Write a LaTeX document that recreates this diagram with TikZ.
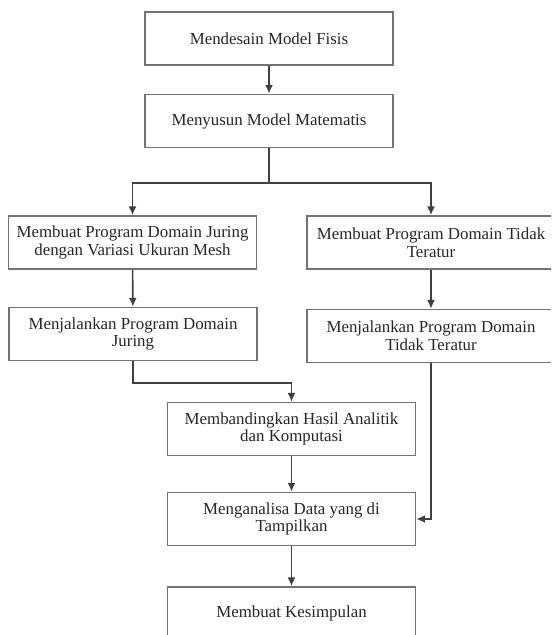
\documentclass[tikz,border=0pt]{standalone}
\usepackage{fontspec}
\setmainfont{Liberation Serif}
\usetikzlibrary{arrows.meta}

\tikzset{
  stepbox/.style={draw=black!55, line width=0.9pt, text=black!85,
    minimum width=4.96cm, minimum height=1.06cm, inner sep=2pt,
    align=center, font=\fontsize{9.6}{10}\selectfont},
  flow/.style={draw=black!75, line width=0.9pt, -{Latex[length=5pt,width=4.5pt]}},
}

\begin{document}
\begin{tikzpicture}[x=0.02cm, y=-0.02cm]
            % page frame (the right column and the last box run off the page)
            \clip (0,0) rectangle (551,635);

            % main column
            \node[stepbox] (fisis) at (269,38.5) {Mendesain Model Fisis};
            \node[stepbox] (matematis) at (269,121) {Menyusun Model Matematis};

            % left branch
            \node[stepbox] (progjuring) at (132.5,242.5) {Membuat Program Domain Juring\\dengan Variasi Ukuran Mesh};
            \node[stepbox] (runjuring) at (133,334) {Menjalankan Program Domain\\Juring};
            % right branch
            \node[stepbox] (progtidak) at (431,242.5) {Membuat Program Domain Tidak\\Teratur};
            \node[stepbox] (runtidak) at (431,336) {Menjalankan Program Domain\\Tidak Teratur};

            % lower column
            \node[stepbox] (banding) at (291.5,429) {Membandingkan Hasil Analitik\\dan Komputasi};
            \node[stepbox] (analisa) at (291.5,519) {Menganalisa Data yang di\\Tampilkan};
            \node[stepbox] (simpulan) at (291.5,613.5) {Membuat Kesimpulan};

            \coordinate (split) at (269,183);

            % connectors
            \draw[flow] (fisis) -- (matematis);
            \draw[flow] (matematis.south) -- (split) -| (progjuring.north);
            \draw[flow] (split) -| (progtidak.north);
            \draw[flow] (progjuring) -- (runjuring);
            \draw[flow] (progtidak) -- (runtidak);
            \draw[flow] (runjuring.south) -- ++(0,22) -| (banding.north);
            \draw[flow] (runtidak.south) |- (analisa.east);
            \draw[flow] (banding) -- (analisa);
            \draw[flow] (analisa) -- (simpulan);
\end{tikzpicture}
\end{document}
